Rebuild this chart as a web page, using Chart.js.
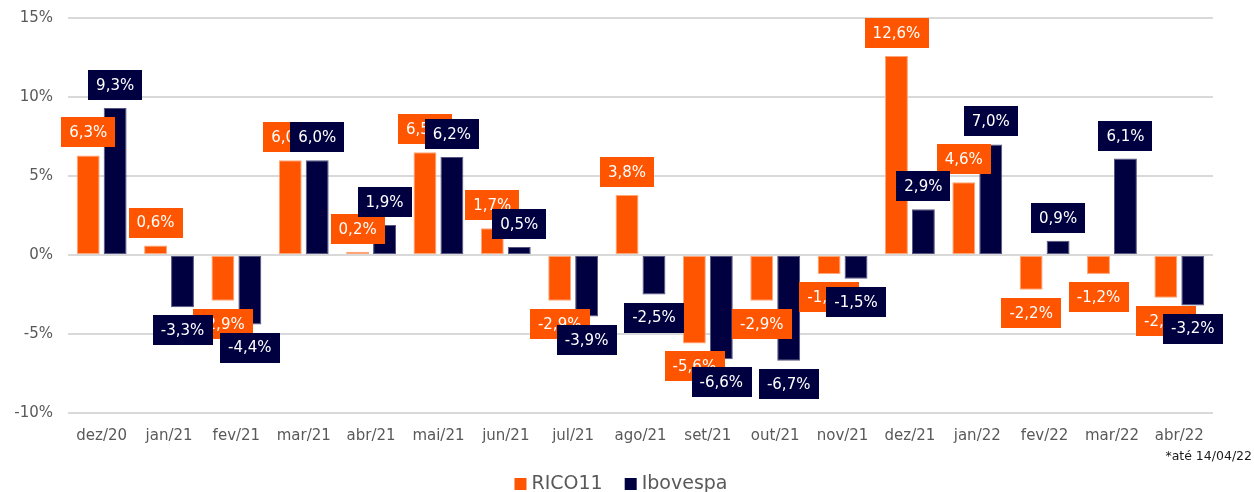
<!DOCTYPE html>
<html>
<head>
<meta charset="utf-8">
<script src="https://cdn.jsdelivr.net/npm/chart.js@4.4.1/dist/chart.umd.min.js"></script>
<style>
html,body{margin:0;padding:0;background:#fff;}
#wrap{position:relative;width:1254px;height:492px;}
</style>
</head>
<body>
<div id="wrap"><canvas id="c" width="1254" height="492"></canvas></div>
<script>
const categories = ["dez/20","jan/21","fev/21","mar/21","abr/21","mai/21","jun/21","jul/21","ago/21","set/21","out/21","nov/21","dez/21","jan/22","fev/22","mar/22","abr/22"];
const rico11 = [6.3, 0.6, -2.9, 6.0, 0.2, 6.5, 1.7, -2.9, 3.8, -5.6, -2.9, -1.2, 12.6, 4.6, -2.2, -1.2, -2.7];
const ibovespa = [9.3, -3.3, -4.4, 6.0, 1.9, 6.2, 0.5, -3.9, -2.5, -6.6, -6.7, -1.5, 2.9, 7.0, 0.9, 6.1, -3.2];
const yTicks = [-10, -5, 0, 5, 10, 15];
const seriesNames = ["RICO11", "Ibovespa"];
const footnote = "*até 14/04/22";

const ORANGE = "#FF5500";
const NAVY = "#000040";
const FONT = "'DejaVu Sans', sans-serif";

function fmt(v){ return v.toFixed(1).replace('.', ',') + '%'; }

const labelPlugin = {
  id: 'boxLabels',
  afterDatasetsDraw(chart){
    const ctx = chart.ctx;
    ctx.save();
    ctx.font = "15px " + FONT;
    ctx.textAlign = 'center';
    ctx.textBaseline = 'middle';
    chart.data.datasets.forEach((ds, di) => {
      const meta = chart.getDatasetMeta(di);
      meta.data.forEach((bar, i) => {
        const v = ds.data[i];
        const txt = fmt(v);
        const w = ctx.measureText(txt).width + 16;
        const h = 30;
        const cy = v >= 0 ? bar.y - 23 : bar.y + 23;
        ctx.fillStyle = ds.backgroundColor;
        ctx.fillRect(Math.round(bar.x - w/2), Math.round(cy - h/2), Math.round(w), h);
        ctx.fillStyle = '#ffffff';
        ctx.fillText(txt, bar.x, cy + 1);
      });
    });
    ctx.restore();
  },
  afterDraw(chart){
    const ctx = chart.ctx;
    ctx.save();
    ctx.font = "19px " + FONT;
    ctx.textBaseline = 'middle';
    ctx.textAlign = 'left';
    const items = chart.data.datasets.map(d => ({label: d.label, color: d.backgroundColor, w: ctx.measureText(d.label).width}));
    const box = 12, gapBT = 5, gapItems = 22;
    let total = 0;
    items.forEach((it, k) => { total += box + gapBT + it.w + (k < items.length - 1 ? gapItems : 0); });
    let x = 621 - total/2;
    const y = 484;
    items.forEach(it => {
      ctx.fillStyle = it.color;
      ctx.fillRect(x, y - 6, box, box);
      ctx.fillStyle = '#595959';
      ctx.fillText(it.label, x + box + gapBT, y);
      x += box + gapBT + it.w + gapItems;
    });
    ctx.font = "12.5px " + FONT;
    ctx.fillStyle = '#1a1a1a';
    ctx.textAlign = 'right';
    ctx.fillText(footnote, 1252, 457);
    ctx.restore();
  }
};

new Chart(document.getElementById('c'), {
  type: 'bar',
  data: {
    labels: categories,
    datasets: [
      {label: seriesNames[0], data: rico11, backgroundColor: ORANGE, borderColor: '#ffa679', borderWidth: 1, borderSkipped: false},
      {label: seriesNames[1], data: ibovespa, backgroundColor: NAVY, borderColor: '#55557f', borderWidth: 1, borderSkipped: false}
    ]
  },
  options: {
    responsive: false,
    animation: false,
    events: [],
    layout: {padding: {top: 18, right: 41, left: 0, bottom: 0}},
    datasets: {bar: {categoryPercentage: 0.8, barPercentage: 0.85}},
    plugins: {legend: {display: false}, tooltip: {enabled: false}},
    scales: {
      x: {
        grid: {display: false, drawTicks: false},
        border: {display: false},
        ticks: {color: '#595959', font: {family: FONT, size: 15}, padding: 14, maxRotation: 0, autoSkip: false},
        afterFit(s){ s.height = 79; s.paddingLeft = 0; s.paddingRight = 0; }
      },
      y: {
        min: -10, max: 15,
        afterBuildTicks(s){ s.ticks = yTicks.map(v => ({value: v})); },
        grid: {color: '#d9d9d9', lineWidth: 2, drawTicks: false},
        border: {display: false},
        ticks: {color: '#595959', font: {family: FONT, size: 15}, padding: 15, callback: v => v + '%'},
        afterFit(s){ s.width = 68; s.paddingTop = 0; s.paddingBottom = 0; }
      }
    }
  },
  plugins: [labelPlugin]
});
</script>
</body>
</html>
